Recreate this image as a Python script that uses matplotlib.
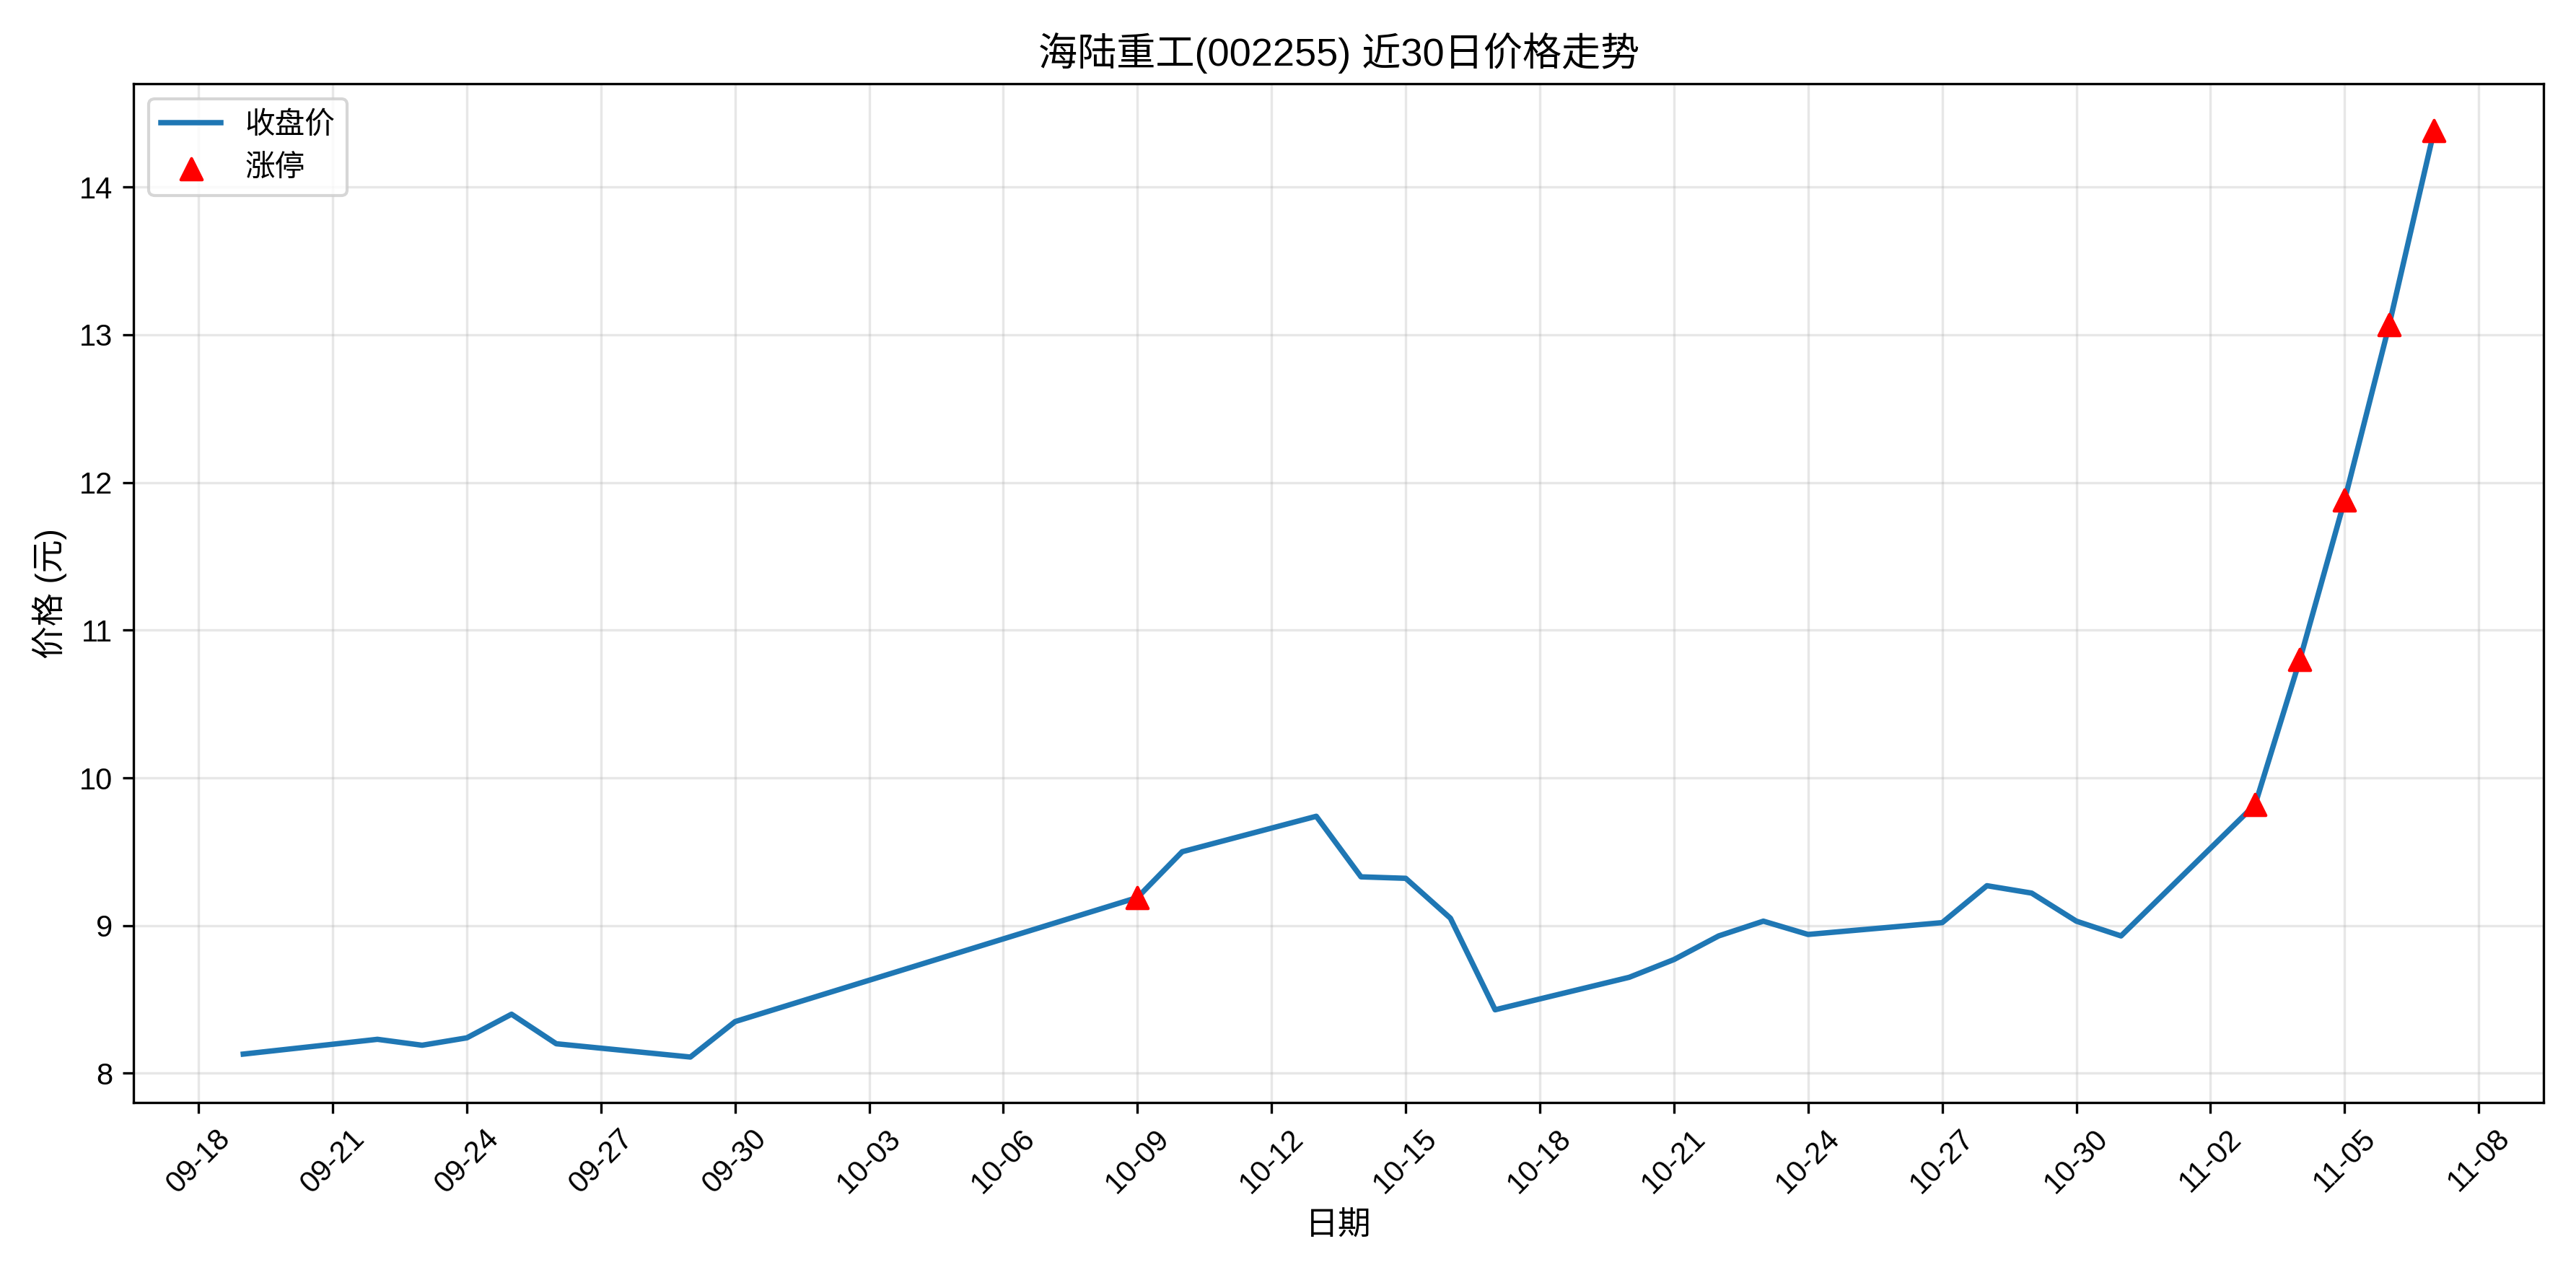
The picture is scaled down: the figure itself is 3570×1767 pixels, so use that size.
import pandas as pd
import matplotlib
matplotlib.use("Agg")
import matplotlib.pyplot as plt
import matplotlib.dates as mdates

plt.rcParams['font.family'] = ['Liberation Sans', 'Noto Sans CJK SC', 'DejaVu Sans']
plt.rcParams['axes.unicode_minus'] = False

dates = ['2025-09-19', '2025-09-22', '2025-09-23', '2025-09-24', '2025-09-25', '2025-09-26',
         '2025-09-29', '2025-09-30', '2025-10-09', '2025-10-10', '2025-10-13', '2025-10-14',
         '2025-10-15', '2025-10-16', '2025-10-17', '2025-10-20', '2025-10-21', '2025-10-22',
         '2025-10-23', '2025-10-24', '2025-10-27', '2025-10-28', '2025-10-29', '2025-10-30',
         '2025-10-31', '2025-11-03', '2025-11-04', '2025-11-05', '2025-11-06', '2025-11-07']
close = [8.13, 8.23, 8.19, 8.24, 8.40, 8.20, 8.11, 8.35, 9.19, 9.50, 9.74, 9.33,
         9.32, 9.05, 8.43, 8.65, 8.77, 8.93, 9.03, 8.94, 9.02, 9.27, 9.22, 9.03,
         8.93, 9.82, 10.80, 11.88, 13.07, 14.38]
limit_up = ['2025-10-09', '2025-11-03', '2025-11-04', '2025-11-05', '2025-11-06', '2025-11-07']

df = pd.DataFrame({'date': pd.to_datetime(dates), 'close': close})
lu = df[df['date'].isin(pd.to_datetime(limit_up))]

fig, ax = plt.subplots(figsize=(11.9, 5.89), dpi=300)
ax.plot(df['date'], df['close'], color='#1f77b4', linewidth=1.8, label='收盘价')
ax.scatter(lu['date'], lu['close'], color='red', marker='^', s=50, zorder=5, label='涨停')

ax.set_title('海陆重工(002255) 近30日价格走势', fontsize=13)
ax.set_xlabel('日期', fontsize=11)
ax.set_ylabel('价格 (元)', fontsize=11)
ticks = pd.date_range('2025-09-18', '2025-11-08', freq='3D')
ax.set_xticks(ticks)
ax.xaxis.set_major_formatter(mdates.DateFormatter('%m-%d'))
plt.setp(ax.get_xticklabels(), rotation=45)
ax.set_ylim(7.8, 14.7)
ax.grid(True, alpha=0.3)
ax.legend(loc='upper left')
plt.tight_layout()
plt.savefig('out.png', dpi=300)
